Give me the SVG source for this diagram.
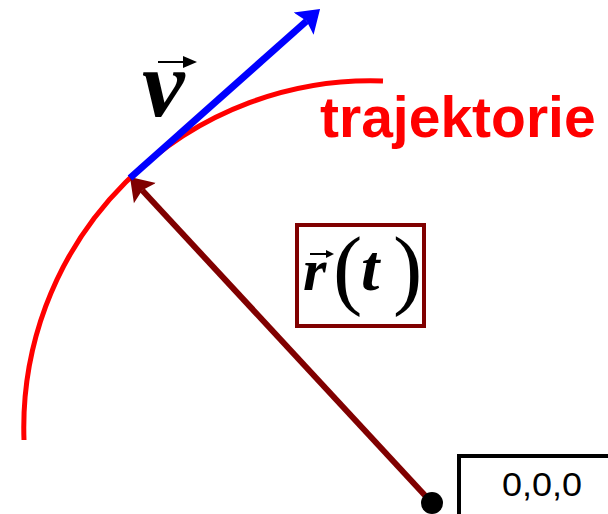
<svg xmlns="http://www.w3.org/2000/svg" width="608" height="514" viewBox="0 0 608 514">
<defs>
<style>
.math{font-family:"Liberation Serif","Times New Roman",serif;font-style:italic;font-weight:bold;fill:#000}
.paren{font-family:"Liberation Serif","Times New Roman",serif;font-weight:normal;fill:#000}
.vecarrow{stroke:#000;stroke-width:2;fill:none}
</style>
<marker id="headR" markerUnits="userSpaceOnUse" markerWidth="24" markerHeight="32" refX="4" refY="15" orient="auto" viewBox="0 0 24 30">
<path d="M0,0 L22,15 L0,30 L4,15 Z" fill="#800000"/>
</marker>
<marker id="headB" markerUnits="userSpaceOnUse" markerWidth="24" markerHeight="32" refX="4" refY="15" orient="auto" viewBox="0 0 24 30">
<path d="M0,0 L22,15 L0,30 L4,15 Z" fill="#0000ff"/>
</marker>
</defs>
<rect width="608" height="514" fill="#fff"/>
<g id="trajectory">
<path d="M24,440 A347,347 0 0 1 383,81" fill="none" stroke="#ff0000" stroke-width="5"/>
<text x="320" y="137" font-family="'Liberation Sans',Arial,sans-serif" font-weight="bold" font-size="57" fill="#ff0000">trajektorie</text>
</g>
<g id="connectors">
<line x1="432" y1="503" x2="142.2" y2="190.2" stroke="#800000" stroke-width="6" marker-end="url(#headR)"/>
<line x1="130" y1="178" x2="306.6" y2="21" stroke="#0000ff" stroke-width="7" marker-end="url(#headB)"/>
</g>
<g id="velocity-label">
<text class="math" x="142" y="116" font-size="96">v</text>
<path class="vecarrow" d="M158,62 H192"/>
<path d="M183,56 L197,62 L183,68 Z" fill="#000"/>
</g>
<g id="position-label">
<rect x="297" y="225" width="127" height="101" fill="#fff" stroke="#800000" stroke-width="4"/>
<text class="math" x="303" y="290" font-size="60">r</text>
<path class="vecarrow" d="M310,254 H329"/>
<path d="M326,250 L334,254 L326,258 Z" fill="#000"/>
<text class="paren" x="333" y="298" font-size="88">(</text>
<text class="math" x="361" y="290" font-size="66">t</text>
<text class="paren" x="393" y="298" font-size="88">)</text>
</g>
<g id="origin">
<circle cx="432" cy="503" r="11" fill="#000"/>
<rect x="459" y="456" width="160" height="70" fill="#fff" stroke="#000" stroke-width="4"/>
<text x="502" y="496" font-family="'Liberation Sans',Arial,sans-serif" font-size="33" textLength="80" lengthAdjust="spacingAndGlyphs" fill="#000">0,0,0</text>
</g>
</svg>
